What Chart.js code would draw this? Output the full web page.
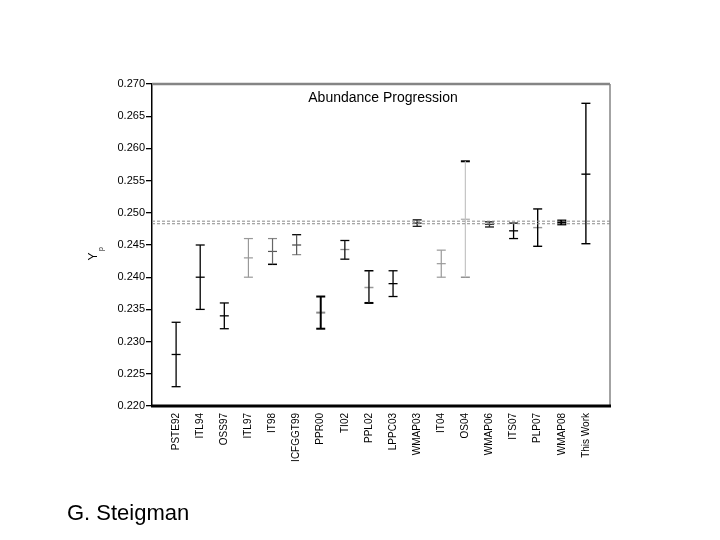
<!DOCTYPE html>
<html>
<head>
<meta charset="utf-8">
<script src="https://cdn.jsdelivr.net/npm/chart.js@4.4.1/dist/chart.umd.min.js"></script>
<style>
  body { margin: 0; background: #fff; }
  canvas { display: block; }
</style>
</head>
<body>
<canvas id="chart" width="720" height="540"></canvas>
<script>
// data
const categories = ["PSTE92", "ITL94", "OSS97", "ITL97", "IT98", "ICFGGT99", "PPR00", "TI02", "PPL02",
  "LPPC03", "WMAP03", "IT04", "OS04", "WMAP06", "ITS07", "PLP07", "WMAP08", "This Work"];
const centers = [0.228, 0.240, 0.234, 0.243, 0.244, 0.245, 0.2345, 0.2443, 0.2384,
  0.239, 0.2484, 0.2421, 0.249, 0.2482, 0.2472, 0.2477, 0.2485, 0.256];
const upper = [0.233, 0.245, 0.236, 0.246, 0.246, 0.2466, 0.237, 0.2457, 0.241,
  0.241, 0.2489, 0.2442, 0.258, 0.2486, 0.2484, 0.2506, 0.2488, 0.267];
const lower = [0.223, 0.235, 0.232, 0.240, 0.242, 0.2435, 0.232, 0.2428, 0.236,
  0.237, 0.2479, 0.240, 0.240, 0.2478, 0.2460, 0.2448, 0.2482, 0.2452];
const bandValues = [0.2487, 0.2483];
const yTicks = [0.220, 0.225, 0.230, 0.235, 0.240, 0.245, 0.250, 0.255, 0.260, 0.265, 0.270];

// styles per bar
const lineColor = ["#000", "#000", "#000", "#999", "#666", "#555", "#000", "#111", "#222",
  "#000", "#222", "#999", "#c4c4c4", "#333", "#000", "#000", "#000", "#000"];
const topCapColor = ["#000", "#000", "#000", "#999", "#888", "#000", "#000", "#000", "#000",
  "#000", "#000", "#999", "#000", "#333", "#000", "#000", "#000", "#000"];
const botCapColor = ["#000", "#000", "#000", "#999", "#000", "#888", "#000", "#000", "#000",
  "#000", "#222", "#999", "#777", "#333", "#000", "#000", "#000", "#000"];
const centerColor = ["#000", "#000", "#000", "#999", "#555", "#444", "#888", "#888", "#999",
  "#000", "#222", "#999", "#aaa", "#333", "#000", "#999", "#000", "#000"];
const lineW = [1.3, 1.3, 1.3, 1.2, 1.2, 1.2, 2, 1.3, 1.5, 1.3, 1.3, 1.2, 1.2, 1.3, 1.3, 1.4, 2, 1.4];
const topCapW = [1.3, 1.3, 1.3, 1.2, 1.2, 1.3, 2, 1.3, 1.5, 1.3, 1.3, 1.2, 2, 1.5, 1.3, 1.4, 2, 1.4];
const botCapW = [1.3, 1.3, 1.3, 1.2, 1.5, 1.2, 2, 1.3, 2, 1.3, 1.3, 1.2, 1.2, 1.5, 1.3, 1.4, 2, 1.4];

const xs = categories.map((c, i) => i + 1);

const datasets = [];

// dashed band lines
bandValues.forEach(v => {
  datasets.push({
    type: "line",
    data: [{ x: 0, y: v }, { x: categories.length + 1, y: v }],
    borderColor: "#8a8a8a",
    borderWidth: 1,
    borderDash: [3, 2],
    pointRadius: 0,
  });
});

// vertical error lines
categories.forEach((c, i) => {
  datasets.push({
    type: "line",
    data: [{ x: xs[i], y: lower[i] }, { x: xs[i], y: upper[i] }],
    borderColor: lineColor[i],
    borderWidth: lineW[i],
    pointRadius: 0,
  });
});

// caps and centre marks
function marks(values, colors, widths) {
  return {
    type: "scatter",
    data: values.map((v, i) => ({ x: xs[i], y: v })),
    pointStyle: "line",
    pointRadius: 4.5,
    pointBorderColor: colors,
    pointBackgroundColor: colors,
    pointBorderWidth: widths,
  };
}
datasets.push(marks(upper, topCapColor, topCapW));
datasets.push(marks(lower, botCapColor, botCapW));
datasets.push(marks(centers, centerColor, lineW));

const frame = {
  id: "frame",
  afterDraw(chart) {
    const { ctx, chartArea: a } = chart;
    ctx.save();
    ctx.strokeStyle = "#858585";
    ctx.lineWidth = 2.5;
    ctx.beginPath();
    ctx.moveTo(a.left, a.top);
    ctx.lineTo(a.right, a.top);
    ctx.stroke();
    ctx.lineWidth = 1.5;
    ctx.beginPath();
    ctx.moveTo(a.right, a.top);
    ctx.lineTo(a.right, a.bottom);
    ctx.stroke();
    ctx.strokeStyle = "#000";
    ctx.lineWidth = 3;
    ctx.beginPath();
    ctx.moveTo(a.left - 1, a.bottom);
    ctx.lineTo(a.right + 1, a.bottom);
    ctx.stroke();

    ctx.fillStyle = "#000";
    ctx.font = "14px 'Liberation Sans', Arial, sans-serif";
    ctx.textAlign = "center";
    ctx.textBaseline = "alphabetic";
    ctx.fillText("Abundance Progression", (a.left + a.right) / 2 + 2, 102);

    // Y_p axis title
    ctx.save();
    ctx.translate(97, 256.5);
    ctx.rotate(-Math.PI / 2);
    ctx.font = "12px 'Liberation Sans', Arial, sans-serif";
    ctx.textAlign = "center";
    ctx.fillText("Y", 0, 0);
    ctx.font = "7px 'Liberation Sans', Arial, sans-serif";
    ctx.textAlign = "left";
    ctx.fillText("p", 5.5, 6);
    ctx.restore();

    ctx.font = "22px 'Liberation Sans', Arial, sans-serif";
    ctx.textAlign = "left";
    ctx.fillText("G. Steigman", 67, 520);
    ctx.restore();
  },
};

new Chart(document.getElementById("chart"), {
  type: "scatter",
  data: { datasets },
  options: {
    responsive: false,
    animation: false,
    events: [],
    layout: { padding: { left: 0, top: 84, right: 110, bottom: 0 } },
    scales: {
      x: {
        type: "linear",
        min: 0,
        max: categories.length + 1,
        afterFit: s => { s.height = 134; },
        afterBuildTicks: s => { s.ticks = xs.map(v => ({ value: v })); },
        grid: { display: false },
        border: { display: false },
        ticks: {
          autoSkip: false,
          minRotation: 90,
          maxRotation: 90,
          padding: -1,
          color: "#000",
          font: { family: "'Liberation Sans', Arial, sans-serif", size: 10 },
          callback: v => categories[v - 1] || "",
        },
      },
      y: {
        min: 0.22,
        max: 0.27,
        afterFit: s => { s.width = 152; },
        afterBuildTicks: s => { s.ticks = yTicks.map(v => ({ value: v })); },
        grid: { drawOnChartArea: false, drawTicks: true, tickLength: 6, color: "#000", lineWidth: 1.3 },
        border: { display: true, color: "#000", width: 1.5 },
        ticks: {
          padding: 1,
          color: "#000",
          font: { family: "'Liberation Sans', Arial, sans-serif", size: 11 },
          callback: v => v.toFixed(3),
        },
      },
    },
    plugins: {
      legend: { display: false },
      tooltip: { enabled: false },
      title: { display: false },
    },
  },
  plugins: [frame],
});
</script>
</body>
</html>
